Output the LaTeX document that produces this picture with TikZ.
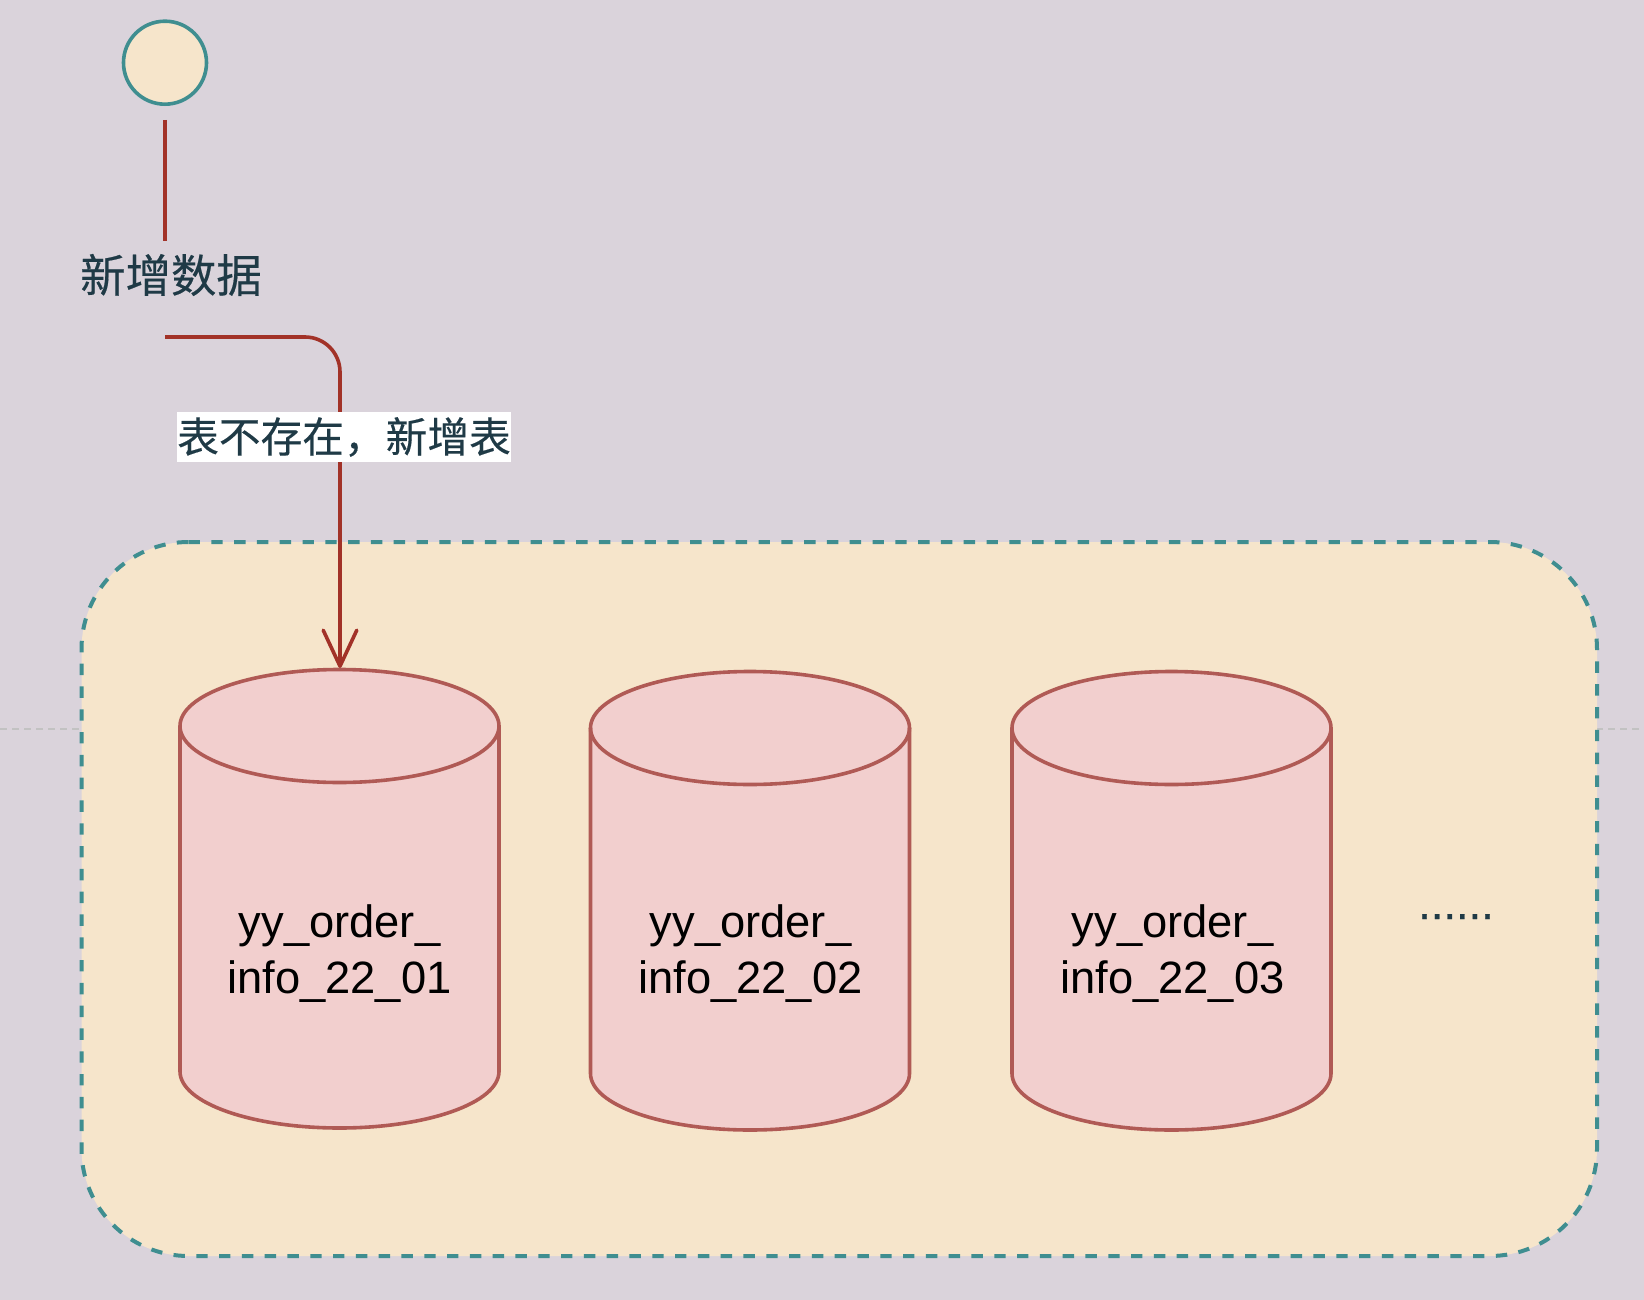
\documentclass[tikz,border=0pt]{standalone}
\usepackage{fontspec}
\setmainfont{Liberation Sans}
\newfontfamily\cjk[FakeBold=0.35]{Noto Sans CJK SC}
\newfontfamily\dotfont[FakeBold=0.6]{Liberation Sans}
\usetikzlibrary{arrows.meta}
\definecolor{bgc}{HTML}{DAD3DB}
\definecolor{cream}{HTML}{F6E5CB}
\definecolor{teal2}{HTML}{3F8E90}
\definecolor{redl}{HTML}{A23228}
\definecolor{cylf}{HTML}{F2CFCE}
\definecolor{cyls}{HTML}{B05A55}
\definecolor{inkc}{HTML}{1F3A46}
\tikzset{
  lab/.style={font=\cjk\fontsize{45.4}{50}\selectfont,text=inkc,inner sep=0pt},
  tbl/.style={font=\fontsize{45.3}{56.5}\selectfont,text=black,align=center,inner sep=0pt},
  conn/.style={draw=redl,line width=3.6pt},
  cylbody/.style={draw=cyls,fill=cylf,line width=3.6pt,line join=round},
}
\newcommand{\cyl}[2]{% left x, top y
  \draw[cylbody] (#1,#2+56.5) arc[start angle=180,end angle=360,x radius=159.5,y radius=56.5]
     -- (#1+319,#2+402) arc[start angle=0,end angle=180,x radius=159.5,y radius=56.5] -- cycle;
  \draw[cylbody,fill=none] (#1,#2+56.5) arc[start angle=180,end angle=0,x radius=159.5,y radius=56.5];
}
\begin{document}
\begin{tikzpicture}[x=1pt,y=-1pt]
\useasboundingbox (0,0) rectangle (1644,1300);
\fill[bgc] (0,0) rectangle (1644,1300);
\draw[black!24,line width=1.5pt,dash pattern=on 6.5pt off 5.5pt] (0,729) -- (1640,729);
\node[draw=teal2,fill=cream,line width=3.6pt,circle,minimum size=83pt,inner sep=0pt] (start) at (165,62.7) {};
\draw[draw=teal2,fill=cream,line width=4pt,dash pattern=on 11.4pt off 11.4pt]
  (188.5,542) -- (1490,542) arc[start angle=-90,end angle=0,radius=107]
  -- (1597,1149) arc[start angle=0,end angle=90,radius=107]
  -- (188.5,1256) arc[start angle=90,end angle=180,radius=107]
  -- (81.5,649) arc[start angle=180,end angle=270,radius=107] -- cycle;
\cyl{180}{669.5}
\cyl{590.5}{671.5}
\cyl{1012}{671.5}
\node[tbl] (ta) at (339.5,953.5) {yy\_order\_\\info\_22\_01};
\node[tbl] (tb) at (750.5,953.5) {yy\_order\_\\info\_22\_02};
\node[tbl] (tc) at (1172.5,953.5) {yy\_order\_\\info\_22\_03};
\node[font=\dotfont\fontsize{45.3}{50}\selectfont,text=inkc,inner sep=0pt,anchor=base] (dots) at (1456,919) {......};
\coordinate (l1a) at (165,120);
\coordinate (l1b) at (165,241);
\draw[conn] (l1a) -- (l1b);
\node[lab] (newdata) at (171,275) {新增数据};
\coordinate (l2a) at (165,337);
\coordinate (l2b) at (340,668);
\draw[conn,rounded corners=35pt,-{Straight Barb[length=36pt,width=34pt,line width=3.6pt,angle'=50,round]}] (l2a) -- (340,337) -- (l2b);
\node[fill=white,inner sep=0pt,minimum width=334pt,minimum height=50pt,font=\cjk\fontsize{41.7}{50}\selectfont,text=inkc] (elabel) at (344,437) {表不存在，新增表};
\end{tikzpicture}
\end{document}
